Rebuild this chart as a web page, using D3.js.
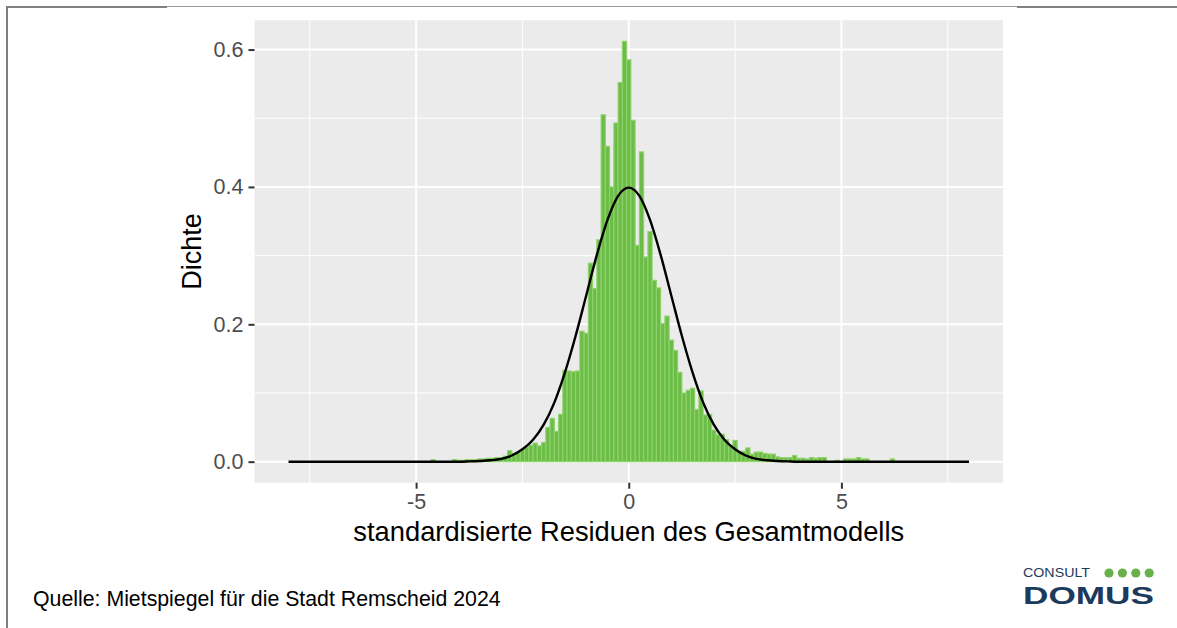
<!DOCTYPE html>
<html>
<head>
<meta charset="utf-8">
<script src="https://cdn.jsdelivr.net/npm/d3@7"></script>
<style>
  body { margin: 0; background: #ffffff; }
  text { font-family: "Liberation Sans", Arial, sans-serif; }
</style>
</head>
<body>
<div id="chart"></div>
<script>
// histogram bins (centre of each 0.1 wide bin) and their density
const binCenters = [-4.6, -4.5, -4.4, -4.3, -4.2, -4.1, -4.0, -3.9, -3.8, -3.7, -3.6, -3.5, -3.4, -3.3, -3.2, -3.1,
  -3.0, -2.9, -2.8, -2.7, -2.6, -2.5, -2.4, -2.3, -2.2, -2.1, -2.0, -1.9, -1.8, -1.7, -1.6, -1.5, -1.4, -1.3, -1.2,
  -1.1, -1.0, -0.9, -0.8, -0.7, -0.6, -0.5, -0.4, -0.3, -0.2, -0.1, 0.0, 0.1, 0.2, 0.3, 0.4, 0.5, 0.6, 0.7, 0.8,
  0.9, 1.0, 1.1, 1.2, 1.3, 1.4, 1.5, 1.6, 1.7, 1.8, 1.9, 2.0, 2.1, 2.2, 2.3, 2.4, 2.5, 2.6, 2.7, 2.8, 2.9, 3.0,
  3.1, 3.2, 3.3, 3.4, 3.5, 3.6, 3.7, 3.8, 3.9, 4.0, 4.1, 4.2, 4.3, 4.4, 4.5, 4.6, 4.7, 4.8, 4.9, 5.0, 5.1, 5.2,
  5.3, 5.4, 5.5, 5.6, 5.7, 5.8, 5.9, 6.0, 6.1, 6.2];
const binDensity = [0.003, 0, 0, 0, 0, 0.003, 0.002, 0.002, 0.003, 0.003, 0.003, 0.004, 0.004, 0.005, 0.005, 0.006,
  0.006, 0.008, 0.016, 0.012, 0.013, 0.017, 0.021, 0.024, 0.027, 0.023, 0.028, 0.050, 0.063, 0.044, 0.069, 0.133, 0.132, 0.131, 0.132,
  0.190, 0.187, 0.289, 0.252, 0.323, 0.505, 0.459, 0.400, 0.493, 0.552, 0.612, 0.585, 0.497, 0.315, 0.451, 0.298, 0.335, 0.264, 0.253, 0.201,
  0.212, 0.177, 0.162, 0.130, 0.100, 0.104, 0.107, 0.076, 0.103, 0.068, 0.069, 0.046, 0.039, 0.040, 0.032, 0.024, 0.031, 0.015, 0.015, 0.020, 0.011, 0.014,
  0.014, 0.012, 0.011, 0.011, 0.007, 0.006, 0.006, 0.006, 0.009, 0.005, 0.005, 0.004, 0.006, 0.005, 0.006, 0.006, 0, 0, 0.002, 0, 0.004, 0.004,
  0.004, 0.006, 0.004, 0.004, 0, 0, 0, 0, 0, 0.004];
const binWidth = 0.1;

// normal density curve
const curveX = [-8, -4, -3.75, -3.5, -3.25, -3, -2.75, -2.5, -2.25, -2, -1.75, -1.5, -1.25, -1, -0.75, -0.5, -0.25,
  0, 0.25, 0.5, 0.75, 1, 1.25, 1.5, 1.75, 2, 2.25, 2.5, 2.75, 3, 3.25, 3.5, 3.75, 4, 8];
const curveY = [0, 0, 0.0004, 0.001, 0.002, 0.004, 0.009, 0.018, 0.032, 0.054, 0.086, 0.130, 0.183, 0.242, 0.301, 0.352, 0.387,
  0.399, 0.387, 0.352, 0.301, 0.242, 0.183, 0.130, 0.086, 0.054, 0.032, 0.018, 0.009, 0.004, 0.002, 0.001, 0.0004, 0, 0];

// axis ticks
const xTicks = [-5, 0, 5];
const xMinor = [-7.5, -2.5, 2.5, 7.5];
const yTicks = [0, 0.2, 0.4, 0.6];
const yMinor = [0.1, 0.3, 0.5];

const xTitle = "standardisierte Residuen des Gesamtmodells";
const yTitle = "Dichte";
const sourceText = "Quelle: Mietspiegel für die Stadt Remscheid 2024";

let svgWidth = 1177;
let svgHeight = 628;

// panel area
let margin = { top: 20.3, left: 254.5 };
let width = 748.5;
let height = 462.4;

let svg = d3.select("#chart")
  .append("svg")
  .attr("width", svgWidth)
  .attr("height", svgHeight);

// frame lines around the figure
svg.append("line").attr("x1", 7).attr("x2", 1177).attr("y1", 6.5).attr("y2", 6.5)
  .attr("stroke", "#9a9a9a").attr("stroke-width", 1);
svg.append("line").attr("x1", 6).attr("x2", 167).attr("y1", 7).attr("y2", 7)
  .attr("stroke", "#808080").attr("stroke-width", 2);
svg.append("line").attr("x1", 1017).attr("x2", 1177).attr("y1", 7).attr("y2", 7)
  .attr("stroke", "#808080").attr("stroke-width", 2);
svg.append("line").attr("x1", 7).attr("x2", 7).attr("y1", 6).attr("y2", 628)
  .attr("stroke", "#808080").attr("stroke-width", 2);

let chartGroup = svg.append("g")
  .attr("transform", `translate(${margin.left}, ${margin.top})`);

let xScale = d3.scaleLinear().domain([-8.8, 8.8]).range([0, width]);
let yScale = d3.scaleLinear().domain([-0.0306, 0.6426]).range([height, 0]);

// panel background
chartGroup.append("rect")
  .attr("width", width)
  .attr("height", height)
  .attr("fill", "#ebebeb");

// minor grid
chartGroup.selectAll(".xminor").data(xMinor).enter().append("line")
  .attr("x1", d => xScale(d)).attr("x2", d => xScale(d))
  .attr("y1", 0).attr("y2", height)
  .attr("stroke", "#ffffff").attr("stroke-width", 1);
chartGroup.selectAll(".yminor").data(yMinor).enter().append("line")
  .attr("y1", d => yScale(d)).attr("y2", d => yScale(d))
  .attr("x1", 0).attr("x2", width)
  .attr("stroke", "#ffffff").attr("stroke-width", 1);

// major grid
chartGroup.selectAll(".xmajor").data(xTicks).enter().append("line")
  .attr("x1", d => xScale(d)).attr("x2", d => xScale(d))
  .attr("y1", 0).attr("y2", height)
  .attr("stroke", "#ffffff").attr("stroke-width", 2);
chartGroup.selectAll(".ymajor").data(yTicks).enter().append("line")
  .attr("y1", d => yScale(d)).attr("y2", d => yScale(d))
  .attr("x1", 0).attr("x2", width)
  .attr("stroke", "#ffffff").attr("stroke-width", 2);

// histogram bars
let bins = binCenters.map((c, i) => ({ x0: c - binWidth / 2, x1: c + binWidth / 2, density: binDensity[i] }));
chartGroup.selectAll(".bar")
  .data(bins)
  .enter()
  .append("rect")
  .attr("class", "bar")
  .attr("x", d => xScale(d.x0))
  .attr("width", d => xScale(d.x1) - xScale(d.x0))
  .attr("y", d => yScale(d.density))
  .attr("height", d => yScale(0) - yScale(d.density))
  .attr("fill", "#6cbd48")
  .attr("stroke", "#8fd36b")
  .attr("stroke-width", 1.1);

// density curve
let line = d3.line()
  .x(d => xScale(d[0]))
  .y(d => yScale(d[1]))
  .curve(d3.curveMonotoneX);
chartGroup.append("path")
  .datum(curveX.map((v, i) => [v, curveY[i]]))
  .attr("d", line)
  .attr("fill", "none")
  .attr("stroke", "#000000")
  .attr("stroke-width", 2.4);

// axes
let bottomAxis = d3.axisBottom(xScale).tickValues(xTicks).tickSize(6).tickPadding(5)
  .tickFormat(d => d < 0 ? "-" + Math.abs(d) : d);
let leftAxis = d3.axisLeft(yScale).tickValues(yTicks).tickSize(6).tickPadding(5)
  .tickFormat(d3.format(".1f"));

let xAxis = chartGroup.append("g")
  .attr("transform", `translate(0, ${height})`)
  .call(bottomAxis);
let yAxis = chartGroup.append("g")
  .call(leftAxis);

[xAxis, yAxis].forEach(function(ax) {
  ax.select(".domain").remove();
  ax.selectAll(".tick line").attr("stroke", "#333333").attr("stroke-width", 2);
  ax.selectAll(".tick text")
    .attr("fill", "#4d4d4d")
    .attr("font-size", "21.5px")
    .attr("font-family", "Liberation Sans, Arial, sans-serif");
});

// axis titles
chartGroup.append("text")
  .attr("x", width / 2)
  .attr("y", height + 58)
  .attr("text-anchor", "middle")
  .attr("font-size", "27.3px")
  .attr("fill", "#000000")
  .text(xTitle);

chartGroup.append("text")
  .attr("transform", `translate(-54, ${height / 2}) rotate(-90)`)
  .attr("text-anchor", "middle")
  .attr("font-size", "27px")
  .attr("fill", "#000000")
  .text(yTitle);

// source note
svg.append("text")
  .attr("x", 33)
  .attr("y", 606)
  .attr("font-size", "21.3px")
  .attr("fill", "#000000")
  .text(sourceText);

// logo
let logo = svg.append("g");
logo.append("text")
  .attr("x", 1023)
  .attr("y", 577)
  .attr("font-size", "13px")
  .attr("fill", "#1c3a5c")
  .attr("textLength", 67)
  .attr("lengthAdjust", "spacingAndGlyphs")
  .text("CONSULT");
logo.selectAll("circle")
  .data([0, 1, 2, 3])
  .enter()
  .append("circle")
  .attr("cx", d => 1109 + d * 13.4)
  .attr("cy", 573)
  .attr("r", 4.6)
  .attr("fill", "#68b04a");
logo.append("text")
  .attr("x", 1023)
  .attr("y", 604)
  .attr("font-size", "24px")
  .attr("font-weight", "bold")
  .attr("font-family", "DejaVu Sans, sans-serif")
  .attr("fill", "#1c3a5c")
  .attr("textLength", 131)
  .attr("lengthAdjust", "spacingAndGlyphs")
  .text("DOMUS");
</script>
</body>
</html>
